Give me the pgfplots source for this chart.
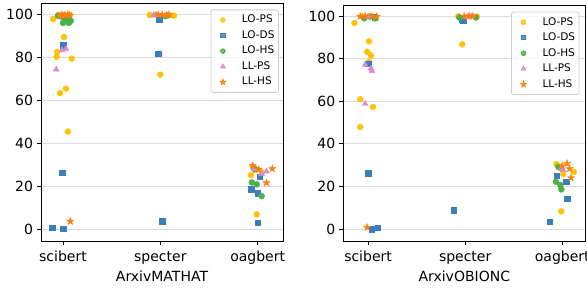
\documentclass[border=0pt]{standalone}
\usepackage{fontspec}
\setmainfont{DejaVu Sans}
\usepackage{pgfplots}
\pgfplotsset{compat=1.18}
\usetikzlibrary{plotmarks}
\definecolor{cLOPS}{HTML}{FFC20A}
\definecolor{cLODS}{HTML}{3A7EBD}
\definecolor{cLOHS}{HTML}{4DAF4A}
\definecolor{cLLPS}{HTML}{CF8FD0}
\definecolor{cLLHS}{HTML}{FF7F0E}
\definecolor{gridc}{HTML}{DADADA}
\definecolor{legc}{HTML}{CCCCCC}
\pgfdeclareplotmark{fstar}{%
  \pgfpathmoveto{\pgfpointpolar{90}{\pgfplotmarksize}}%
  \pgfpathlineto{\pgfpointpolar{126}{0.382\pgfplotmarksize}}%
  \pgfpathlineto{\pgfpointpolar{162}{\pgfplotmarksize}}%
  \pgfpathlineto{\pgfpointpolar{198}{0.382\pgfplotmarksize}}%
  \pgfpathlineto{\pgfpointpolar{234}{\pgfplotmarksize}}%
  \pgfpathlineto{\pgfpointpolar{270}{0.382\pgfplotmarksize}}%
  \pgfpathlineto{\pgfpointpolar{306}{\pgfplotmarksize}}%
  \pgfpathlineto{\pgfpointpolar{342}{0.382\pgfplotmarksize}}%
  \pgfpathlineto{\pgfpointpolar{18}{\pgfplotmarksize}}%
  \pgfpathlineto{\pgfpointpolar{54}{0.382\pgfplotmarksize}}%
  \pgfpathclose\pgfusepathqfillstroke}
\pgfplotsset{
  limg/.style={legend image code/.code={\pgfpathrectangle{\pgfpoint{0pt}{-1pt}}{\pgfpoint{20pt}{2pt}}\pgfusepath{use as bounding box}\draw[mark repeat=2,mark phase=2,##1,mark options={scale=0.78}] plot coordinates {(0pt,0pt)(10pt,0pt)(20pt,0pt)};}},
  sLOPS/.style={only marks, mark=*, mark size=3pt, color=cLOPS, limg},
  sLODS/.style={only marks, mark=square*, mark size=2.7pt, color=cLODS, limg},
  sLOHS/.style={only marks, mark=*, mark size=3pt, color=cLOHS, limg},
  sLLPS/.style={only marks, mark=triangle*, mark size=3.4pt, color=cLLPS, limg},
  sLLHS/.style={only marks, mark=fstar, mark size=3.8pt, color=cLLHS, limg},
  strip/.style={
    scale only axis, width=242pt,
    ymin=-5.6, ymax=105.15,
    ytick={0,20,40,60,80,100},
    xtick={0,1,2}, xticklabels={scibert,specter,oagbert},
    ymajorgrids, grid style={color=gridc, line width=0.8pt},
    axis line style={line width=0.9pt},
    tick align=outside, xtick pos=bottom, ytick pos=left,
    major tick length=4.5pt, tick style={black, line width=0.9pt},
    ticklabel style={font=\fontsize{14}{16}\selectfont},
    xticklabel style={anchor=base, yshift=-16pt},
    yticklabel style={anchor=east},
    xlabel style={font=\fontsize{14}{16}\selectfont, at={(axis description cs:0.5,0)}, anchor=base, yshift=-41pt},
    /pgf/number format/assume math mode=true,
    legend cell align=left,
    legend style={draw=legc, line width=0.8pt, rounded corners=2pt, fill=white, fill opacity=0.8, text opacity=1,
      font=\fontsize{10.5}{12}\selectfont, inner xsep=2pt, inner ysep=3pt,
      nodes={inner sep=2pt, text height=8pt, text depth=2.5pt},
      row sep=1pt,
      /tikz/every odd column/.append style={column sep=7pt}},
  }
}
\begin{document}
\begin{tikzpicture}
\path[use as bounding box] (0pt,0pt) rectangle (587pt,289pt);
\begin{axis}[strip, at={(41pt,48pt)}, anchor=south west, height=237.7pt,
  xmin=-0.226, xmax=2.26, xlabel={ArxivMATHAT},
  legend style={at={(0.983,0.974)}, anchor=north east}]
\addplot[sLOPS] coordinates {(-0.10,97.8) (-0.05,99.6) (0.03,99.3) (0.07,99.8) (0.02,98.0) (0.01,89.4) (-0.06,82.5) (-0.065,80.2) (0.09,79.4) (0.03,65.4) (-0.03,63.3) (0.05,45.4)
 (0.89,99.7) (1.14,99.4) (0.95,99.8) (1.0,71.9)
 (1.95,29.0) (1.93,25.1) (1.99,6.8) (2.04,26.5) (1.97,27.5)};
\addplot[sLODS] coordinates {(0.02,99.0) (0.0,85.6) (-0.01,26.2) (-0.11,0.6) (0.0,0.0)
 (1.03,99.5) (0.99,97.7) (0.98,81.7) (1.02,3.6)
 (2.02,24.3) (1.935,18.5) (2.0,16.6) (2.0,2.9)};
\addplot[sLOHS] coordinates {(-0.05,99.4) (-0.02,99.0) (0.0,96.0) (0.06,96.0) (0.03,97.5) (0.08,97.0) (0.04,98.5)
 (1.08,99.6) (1.05,99.2)
 (1.94,21.7) (1.99,20.8) (2.04,15.3) (1.97,28.0)};
\addplot[sLLPS] coordinates {(0.0,99.5) (-0.01,83.3) (0.03,83.9) (-0.07,74.3)
 (0.93,99.5) (0.96,99.8)
 (2.09,26.8) (2.04,25.8) (1.96,28.0)};
\addplot[sLLHS] coordinates {(-0.01,99.9) (0.02,99.7) (0.05,100) (0.07,99.5) (-0.03,99.3) (0.075,3.6)
 (0.98,99.8) (1.02,99.9) (1.06,99.7) (1.09,99.9)
 (2.15,28.1) (1.95,29.5) (2.09,21.5) (2.01,27.8)};
\legend{LO-PS,LO-DS,LO-HS,LL-PS,LL-HS}
\end{axis}
\begin{axis}[strip, at={(343.3pt,48pt)}, anchor=south west, height=236pt,
  xmin=-0.255, xmax=2.237, xlabel={ArxivOBIONC},
  legend style={at={(0.976,0.972)}, anchor=north east}]
\addplot[sLOPS] coordinates {(-0.06,99.8) (-0.14,96.7) (0.01,88.1) (-0.01,83.2) (0.03,81.5) (0.01,78.4) (-0.08,60.9) (0.05,57.3) (-0.08,47.9)
 (0.93,99.8) (1.12,99.7) (0.97,86.7)
 (1.94,30.5) (2.12,26.8) (2.01,25.8) (1.99,8.3) (1.98,28.5)};
\addplot[sLODS] coordinates {(0.07,99.5) (0.0,77.5) (0.0,26.3) (0.04,-0.1) (0.10,0.6)
 (0.98,97.8) (0.97,98.5) (0.88,8.8)
 (1.94,25.0) (2.04,22.2) (2.05,14.2) (1.87,3.4)};
\addplot[sLOHS] coordinates {(-0.04,98.9) (0.07,98.9) (0.02,99.7)
 (0.94,99.3) (1.11,99.3)
 (1.96,29.2) (1.935,22.2) (1.98,20.7) (1.99,18.6)};
\addplot[sLLPS] coordinates {(0.0,99.8) (-0.03,77.1) (0.03,75.4) (0.04,74.2) (-0.03,58.8)
 (1.02,99.6) (1.06,99.7)
 (2.01,27.7) (1.99,28.5)};
\addplot[sLLHS] coordinates {(-0.01,0.8) (-0.08,99.8) (-0.03,100) (0.04,99.9) (0.09,99.8)
 (0.99,99.9) (1.08,99.9) (1.04,100)
 (2.05,30.8) (2.0,29.7) (2.075,28.3) (2.09,24.1)};
\legend{LO-PS,LO-DS,LO-HS,LL-PS,LL-HS}
\end{axis}
\end{tikzpicture}
\end{document}
